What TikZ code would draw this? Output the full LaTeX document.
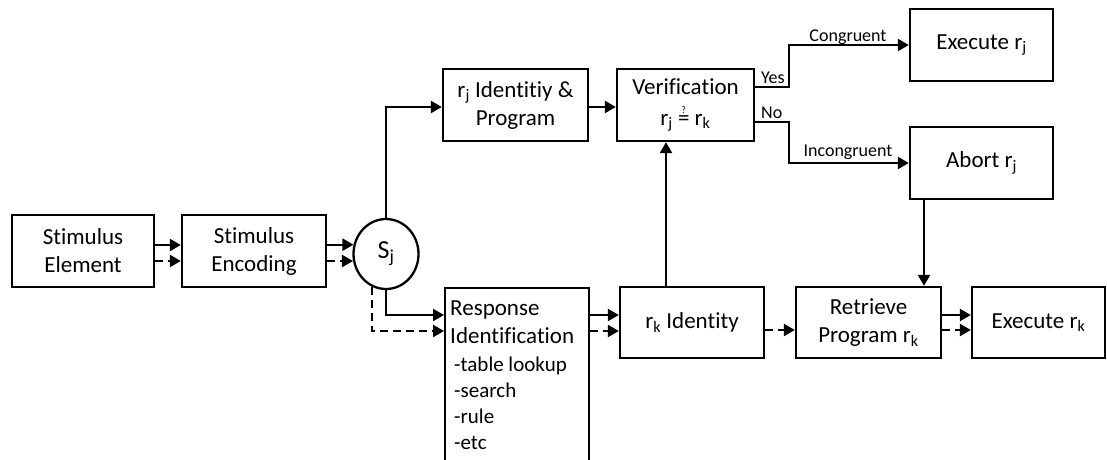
\documentclass[tikz,border=0pt]{standalone}
\usepackage{fontspec}
\setmainfont{Carlito}[Ligatures=NoCommon]
\usetikzlibrary{arrows.meta,shapes.geometric}
\begin{document}
\begin{tikzpicture}[x=1pt,y=-1pt,
  every node/.style={font=\fontsize{23}{28}\selectfont},
  box/.style={draw,line width=2.3pt,minimum width=144pt,minimum height=72pt,align=center,inner sep=2pt},
  arr/.style={line width=2.3pt,-{Triangle[length=11pt,width=12pt]}},
  dsh/.style={arr,dash pattern=on 8pt off 5pt},
  lbl/.style={font=\fontsize{18}{20}\selectfont,inner sep=0pt},
  sub/.style={font=\fontsize{21}{26}\selectfont,inner sep=0pt,anchor=base west},
  mainln/.style={inner sep=0pt,anchor=base west}]
\clip (0,0) rectangle (1107,459);

% boxes
\node[box,minimum width=142pt] (el) at (83,251) {Stimulus\\Element};
\node[box] (enc) at (254,251) {Stimulus\\Encoding};
\node[draw,line width=2.3pt,ellipse,minimum width=65pt,minimum height=70pt,inner sep=0pt,
      font=\fontsize{26}{28}\selectfont] (sj) at (386,254) {S\textsubscript{j}};
\node[box,minimum width=145pt] (rj) at (515.5,105) {r\textsubscript{j} Identitiy \&\\Program};
\node[box,minimum width=137pt] (verif) at (685.5,105)
  {Verification\\[3pt]r\textsubscript{j} \smash{$\stackrel{\mbox{\fontsize{10}{10}\selectfont ?}}{\mbox{=}}$} r\textsubscript{k}};
\node[box,minimum width=143pt] (exj) at (981.5,45) {Execute r\textsubscript{j}};
\node[box,minimum width=143pt] (abort) at (981.5,163) {Abort r\textsubscript{j}};
\node[box,minimum width=144pt,minimum height=71pt] (rk) at (692,322.5) {r\textsubscript{k} Identity};
\node[box,minimum width=145pt,minimum height=71pt] (retr) at (868.5,322.5) {Retrieve\\Program r\textsubscript{k}};
\node[box,minimum width=133pt,minimum height=71pt] (exk) at (1038.5,322.5) {Execute r\textsubscript{k}};

% response identification box, running past the lower edge
\node[draw,line width=2.3pt,minimum width=144pt,minimum height=190pt,anchor=north west,inner sep=0pt] (resp) at (444,287) {};
\node[mainln] (r1) at (450,315) {Response};
\node[mainln] (r2) at (450,343) {Identification};
\node[sub] (r3) at (454,371) {-table lookup};
\node[sub] (r4) at (454,397) {-search};
\node[sub] (r5) at (454,423) {-rule};
\node[sub] (r6) at (454,449) {-etc};

% helper levels
\coordinate (ya) at (0,245);
\coordinate (yb) at (0,261);
\coordinate (yc) at (0,315);
\coordinate (yd) at (0,331);
\coordinate (ye) at (0,330);
\coordinate (yf) at (0,107);
\coordinate (yg) at (0,87);
\coordinate (yh) at (0,122);
\coordinate (xa) at (666,0);
\coordinate (xb) at (789,0);
\coordinate (xc) at (924,0);

% stimulus chain
\draw[arr] (el.east |- ya) -- (enc.west |- ya);
\draw[dsh] (el.east |- yb) -- (enc.west |- yb);
\draw[arr] (sj.164 -| enc.east) -- (sj.164);
\draw[dsh] (sj.192.4 -| enc.east) -- (sj.192.4);

% from S_j
\draw[arr] (sj.north) |- (rj.west |- yf);
\draw[arr] (sj.south) |- (resp.west |- yc);
\draw[dsh] (sj.247.9) |- (resp.west |- yd);

% response side
\draw[arr] (resp.east |- yc) -- (rk.west |- yc);
\draw[dsh] (resp.east |- yd) -- (rk.west |- yd);
\draw[dsh] (rk.east |- ye) -- (retr.west |- ye);
\draw[arr] (retr.east |- yc) -- (exk.west |- yc);
\draw[dsh] (retr.east |- ye) -- (exk.west |- ye);
\draw[arr] (rk.north -| xa) -- (verif.south -| xa);

% verification
\draw[arr] (rj.east |- yf) -- (verif.west |- yf);
\draw[arr] (verif.east |- yg) -- (xb |- yg) |- (exj.west);
\draw[arr] (verif.east |- yh) -- (xb |- yh) |- (abort.west);
\draw[arr] (abort.south -| xc) -- (retr.north -| xc);

% labels
\node[lbl,anchor=base west] (yes) at (761,83) {Yes};
\node[lbl,anchor=base west] (no) at (761,118) {No};
\node[lbl,anchor=base] (cong) at (848,41) {Congruent};
\node[lbl,anchor=base] (incong) at (848,156) {Incongruent};
\end{tikzpicture}
\end{document}
